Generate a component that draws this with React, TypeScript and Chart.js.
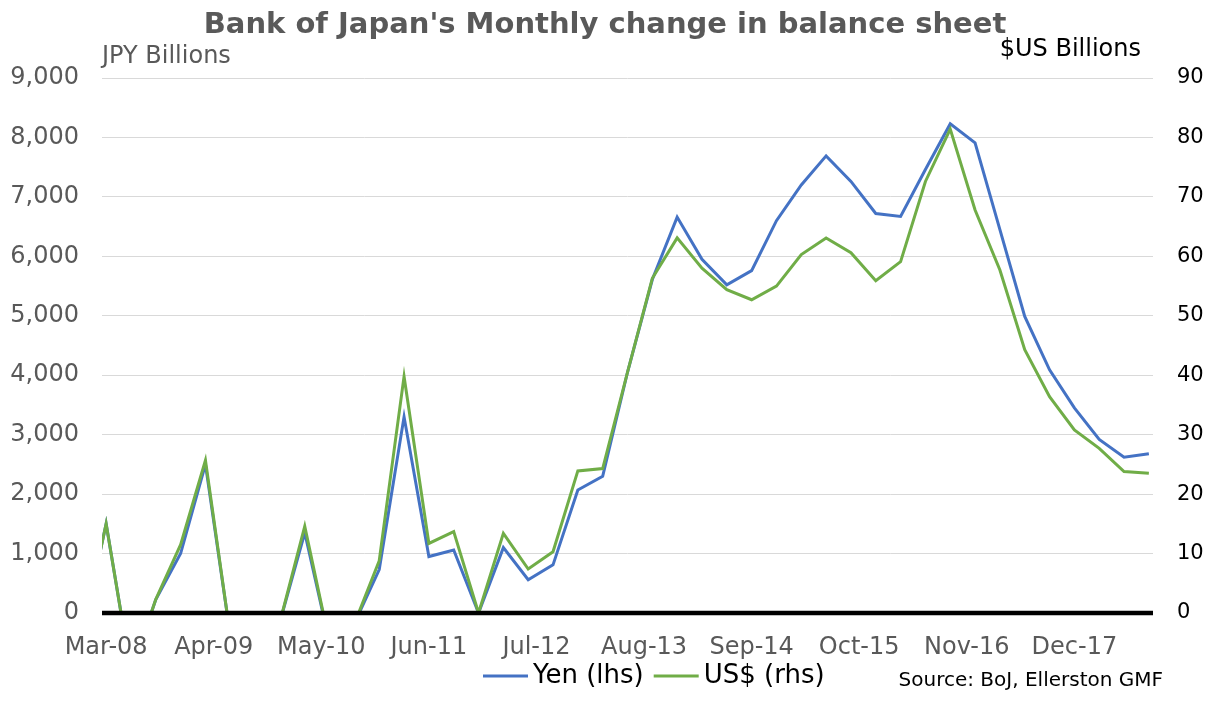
import React, { useEffect, useRef } from 'react';
import { Chart, registerables } from 'chart.js';

Chart.register(...registerables);

// Quarterly observations (first one lies just before the visible axis start)
const quarterLabels = [
  'Dec-07', 'Mar-08', 'Jun-08', 'Sep-08', 'Dec-08', 'Mar-09', 'Jun-09', 'Sep-09', 'Dec-09',
  'Mar-10', 'Jun-10', 'Sep-10', 'Dec-10', 'Mar-11', 'Jun-11', 'Sep-11', 'Dec-11',
  'Mar-12', 'Jun-12', 'Sep-12', 'Dec-12', 'Mar-13', 'Jun-13', 'Sep-13', 'Dec-13',
  'Mar-14', 'Jun-14', 'Sep-14', 'Dec-14', 'Mar-15', 'Jun-15', 'Sep-15', 'Dec-15',
  'Mar-16', 'Jun-16', 'Sep-16', 'Dec-16', 'Mar-17', 'Jun-17', 'Sep-17', 'Dec-17',
  'Mar-18', 'Jun-18', 'Sep-18',
];

// Yen (lhs), JPY billions
const yenValues = [
  -450, 1500, -1000, 225, 1000, 2500, -375, -500, -150,
  1350, -500, -175, 730, 3300, 950, 1060, 0,
  1100, 560, 810, 2070, 2300, 4050, 5610, 6660,
  5950, 5520, 5760, 6600, 7200, 7690, 7260, 6720,
  6670, 7460, 8230, 7910, 6450, 4990, 4090, 3450,
  2920, 2620, 2680,
];

// US$ (rhs), USD billions
const usdValues = [
  -4.5, 15.0, -10.0, 2.3, 11.5, 25.7, -3.8, -5.0, -1.5,
  14.6, -5.0, -1.8, 8.8, 39.8, 11.7, 13.7, 0,
  13.4, 7.4, 10.3, 23.9, 24.3, 40.5, 56.3, 63.1,
  58.0, 54.4, 52.7, 55.0, 60.3, 63.1, 60.6, 55.9,
  59.1, 72.6, 81.4, 67.8, 57.7, 44.3, 36.4, 30.8,
  27.7, 23.8, 23.5,
];

const xTickLabels = ['Mar-08', 'Apr-09', 'May-10', 'Jun-11', 'Jul-12', 'Aug-13', 'Sep-14', 'Oct-15', 'Nov-16', 'Dec-17'];
const axisStart = 'Mar-08';
const axisEnd = 'Sep-18';

const MONTHS = ['Jan', 'Feb', 'Mar', 'Apr', 'May', 'Jun', 'Jul', 'Aug', 'Sep', 'Oct', 'Nov', 'Dec'];
const monthNumber = (label: string) => {
  const [m, y] = label.split('-');
  return (2000 + Number(y)) * 12 + MONTHS.indexOf(m);
};
const monthIndex = (label: string) => monthNumber(label) - monthNumber(axisStart);

const FONT = '"DejaVu Sans", Verdana, sans-serif';
const GREY = '#595959';
const BLUE = '#4472C4';
const GREEN = '#70AD47';

const overlayPlugin = {
  id: 'overlayTexts',
  afterDatasetsDraw(chart: any) {
    const { ctx, chartArea, scales } = chart;
    const y0 = scales.y.getPixelForValue(0);
    ctx.save();
    ctx.strokeStyle = '#000000';
    ctx.lineWidth = 4.5;
    ctx.beginPath();
    ctx.moveTo(chartArea.left, y0);
    ctx.lineTo(chartArea.right, y0);
    ctx.stroke();
    ctx.restore();
  },
  afterDraw(chart: any) {
    const { ctx } = chart;
    ctx.save();
    // Title
    ctx.font = `bold 29px ${FONT}`;
    ctx.fillStyle = GREY;
    ctx.textAlign = 'center';
    ctx.textBaseline = 'middle';
    ctx.fillText("Bank of Japan's Monthly change in balance sheet", 605, 25);

    // Axis titles
    ctx.font = `24px ${FONT}`;
    ctx.textAlign = 'left';
    ctx.fillStyle = GREY;
    ctx.fillText('JPY Billions', 102, 57);
    ctx.fillStyle = '#000000';
    ctx.textAlign = 'right';
    ctx.fillText('$US Billions', 1141, 50);

    // Legend
    ctx.textAlign = 'left';
    ctx.font = `26px ${FONT}`;
    let x = 483;
    const ly = 676;
    chart.data.datasets.forEach((ds: any) => {
      ctx.strokeStyle = ds.borderColor;
      ctx.lineWidth = 3;
      ctx.beginPath();
      ctx.moveTo(x, ly);
      ctx.lineTo(x + 45, ly);
      ctx.stroke();
      x += 50;
      ctx.fillStyle = '#000000';
      ctx.fillText(ds.label, x, ly);
      x += ctx.measureText(ds.label).width + 10;
    });

    // Source
    ctx.font = `20px ${FONT}`;
    ctx.fillStyle = '#000000';
    ctx.textAlign = 'right';
    ctx.fillText('Source: BoJ, Ellerston GMF', 1163, 681);
    ctx.restore();
  },
};

export default function App() {
  const canvasRef = useRef<HTMLCanvasElement | null>(null);

  useEffect(() => {
    document.body.style.margin = '0';
    const canvas = canvasRef.current;
    if (!canvas) return;

    const xs = quarterLabels.map(monthIndex);
    const yenData = yenValues.map((v, i) => ({ x: xs[i], y: v }));
    const usdData = usdValues.map((v, i) => ({ x: xs[i], y: v }));
    const tickMonths = xTickLabels.map(monthIndex);

    const chart = new Chart(canvas, {
      type: 'line',
      data: {
        datasets: [
          {
            label: 'Yen (lhs)',
            data: yenData,
            yAxisID: 'y',
            borderColor: BLUE,
            backgroundColor: BLUE,
            borderWidth: 3,
            pointRadius: 0,
            tension: 0,
            order: 1,
            clip: 0,
          },
          {
            label: 'US$ (rhs)',
            data: usdData,
            yAxisID: 'y1',
            borderColor: GREEN,
            backgroundColor: GREEN,
            borderWidth: 3,
            pointRadius: 0,
            tension: 0,
            order: 0,
            clip: 0,
          },
        ],
      },
      options: {
        animation: false,
        responsive: false,
        maintainAspectRatio: false,
        layout: { padding: { top: 78, left: 0, right: 0, bottom: 0 } },
        plugins: {
          legend: { display: false },
          title: { display: false },
          tooltip: { enabled: false },
        },
        scales: {
          x: {
            type: 'linear',
            min: monthIndex(axisStart) - 0.5,
            max: monthIndex(axisEnd) + 0.5,
            afterBuildTicks: (scale: any) => {
              scale.ticks = tickMonths.map((v) => ({ value: v }));
            },
            afterFit: (scale: any) => {
              scale.height = 89;
            },
            grid: { display: false, drawTicks: false },
            border: { display: false },
            ticks: {
              autoSkip: false,
              maxRotation: 0,
              padding: 20,
              color: GREY,
              font: { family: FONT, size: 24 },
              callback: (value: any) => {
                const i = tickMonths.indexOf(Number(value));
                return i >= 0 ? xTickLabels[i] : '';
              },
            },
          },
          y: {
            position: 'left',
            min: 0,
            max: 9000,
            afterFit: (scale: any) => {
              scale.width = 102;
            },
            grid: {
              color: (c: any) => (c.tick && c.tick.value === 0 ? 'rgba(0,0,0,0)' : '#D9D9D9'),
              lineWidth: 1,
              drawTicks: false,
            },
            border: { display: false },
            ticks: {
              stepSize: 1000,
              padding: 23,
              color: GREY,
              font: { family: FONT, size: 24 },
              callback: (v: any) => Number(v).toLocaleString('en-US'),
            },
          },
          y1: {
            position: 'right',
            min: 0,
            max: 90,
            afterFit: (scale: any) => {
              scale.width = 52;
            },
            grid: { display: false, drawTicks: false },
            border: { display: false },
            ticks: {
              stepSize: 10,
              padding: 24,
              color: '#000000',
              font: { family: FONT, size: 21 },
            },
          },
        },
      },
      plugins: [overlayPlugin],
    } as any);

    return () => chart.destroy();
  }, []);

  return (
    <div style={{ width: 1205, height: 702, position: 'relative', overflow: 'hidden', background: '#ffffff' }}>
      <canvas ref={canvasRef} width={1205} height={702} style={{ display: 'block', width: 1205, height: 702 }} />
    </div>
  );
}
